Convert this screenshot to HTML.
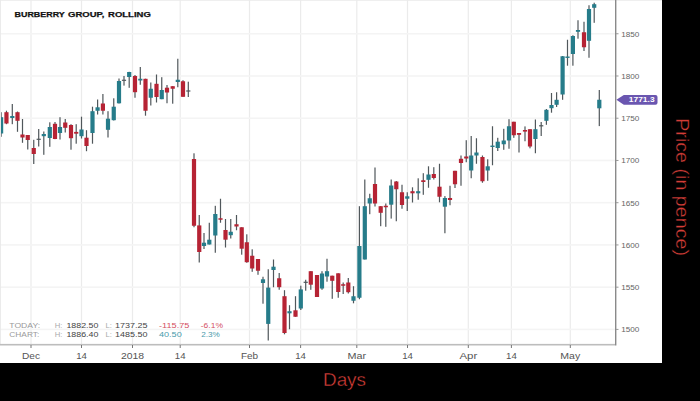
<!DOCTYPE html>
<html><head><meta charset="utf-8">
<style>
html,body{margin:0;padding:0;background:#000;width:700px;height:401px;overflow:hidden}
svg{display:block}
text{font-family:"Liberation Sans",sans-serif}
.yl{font-size:6.8px;fill:#666;letter-spacing:0px}
.xl{font-size:8.6px;fill:#555;letter-spacing:0px}
.tag{font-size:6.6px;fill:#fff;font-weight:bold;letter-spacing:0px}
.title{font-size:7.4px;font-weight:bold;fill:#111;stroke:#111;stroke-width:0.25px;letter-spacing:0px}
.lab{font-size:7px;fill:#9a9a9a;letter-spacing:0px}
.hl{font-size:7px;fill:#aaa;letter-spacing:0px}
.num{font-size:7px;fill:#444;letter-spacing:0px}
.neg{font-size:7px;fill:#d4505f;letter-spacing:0px}
.pos{font-size:7px;fill:#4a9bab;letter-spacing:0px}
.axt{font-size:18px;fill:#d43d37;stroke:#000;stroke-width:0.35px}
.axp{font-size:18px;fill:#d2402f;letter-spacing:0px}
</style></head>
<body>
<svg width="700" height="401" viewBox="0 0 700 401">
<rect x="0" y="0" width="700" height="401" fill="#000"/>
<rect x="0" y="0" width="662" height="363" fill="#ffffff"/>
<rect x="0" y="0" width="662" height="1" fill="#efefef"/>
<rect x="30.40" y="0" width="1.2" height="344" fill="#ebebeb"/>
<rect x="80.90" y="0" width="1.2" height="344" fill="#ebebeb"/>
<rect x="131.90" y="0" width="1.2" height="344" fill="#ebebeb"/>
<rect x="179.60" y="0" width="1.2" height="344" fill="#ebebeb"/>
<rect x="248.90" y="0" width="1.2" height="344" fill="#ebebeb"/>
<rect x="300.00" y="0" width="1.2" height="344" fill="#ebebeb"/>
<rect x="356.20" y="0" width="1.2" height="344" fill="#ebebeb"/>
<rect x="406.90" y="0" width="1.2" height="344" fill="#ebebeb"/>
<rect x="467.70" y="0" width="1.2" height="344" fill="#ebebeb"/>
<rect x="510.80" y="0" width="1.2" height="344" fill="#ebebeb"/>
<rect x="569.70" y="0" width="1.2" height="344" fill="#ebebeb"/>
<rect x="0" y="32.95" width="615" height="1.6" fill="#f4f4f4"/>
<rect x="0" y="75.19" width="615" height="1.6" fill="#f4f4f4"/>
<rect x="0" y="117.42" width="615" height="1.6" fill="#f4f4f4"/>
<rect x="0" y="159.66" width="615" height="1.6" fill="#f4f4f4"/>
<rect x="0" y="201.89" width="615" height="1.6" fill="#f4f4f4"/>
<rect x="0" y="244.13" width="615" height="1.6" fill="#f4f4f4"/>
<rect x="0" y="286.37" width="615" height="1.6" fill="#f4f4f4"/>
<rect x="0" y="328.60" width="615" height="1.6" fill="#f4f4f4"/>
<defs><clipPath id="pc"><rect x="0.9" y="0" width="615" height="345"/></clipPath></defs><g clip-path="url(#pc)">
<rect x="0.50" y="112.20" width="1.2" height="24.60" fill="#50575b"/>
<rect x="-1.00" y="117.20" width="4.2" height="16.30" fill="#267c8a"/>
<rect x="5.85" y="110.70" width="1.2" height="13.50" fill="#50575b"/>
<rect x="4.35" y="112.20" width="4.2" height="11.30" fill="#b62334"/>
<rect x="11.70" y="104.00" width="1.2" height="20.20" fill="#50575b"/>
<rect x="10.20" y="116.00" width="4.2" height="2.00" fill="#267c8a"/>
<rect x="16.90" y="111.50" width="1.2" height="20.30" fill="#50575b"/>
<rect x="15.40" y="112.20" width="4.2" height="8.60" fill="#b62334"/>
<rect x="21.90" y="119.00" width="1.2" height="23.80" fill="#50575b"/>
<rect x="20.40" y="134.50" width="4.2" height="3.00" fill="#b62334"/>
<rect x="27.15" y="135.00" width="1.2" height="14.50" fill="#50575b"/>
<rect x="25.65" y="135.00" width="4.2" height="5.00" fill="#b62334"/>
<rect x="33.15" y="139.80" width="1.2" height="24.20" fill="#50575b"/>
<rect x="31.65" y="148.00" width="4.2" height="6.00" fill="#b62334"/>
<rect x="38.10" y="129.00" width="1.2" height="17.50" fill="#50575b"/>
<rect x="36.60" y="138.70" width="4.2" height="1.2" fill="#50575b"/>
<rect x="43.20" y="131.50" width="1.2" height="23.30" fill="#50575b"/>
<rect x="41.70" y="134.00" width="4.2" height="2.20" fill="#267c8a"/>
<rect x="49.20" y="122.30" width="1.2" height="24.50" fill="#50575b"/>
<rect x="47.70" y="127.00" width="4.2" height="11.00" fill="#267c8a"/>
<rect x="54.40" y="122.00" width="1.2" height="17.20" fill="#50575b"/>
<rect x="52.90" y="123.80" width="4.2" height="15.20" fill="#b62334"/>
<rect x="59.40" y="117.20" width="1.2" height="22.30" fill="#50575b"/>
<rect x="57.90" y="127.00" width="4.2" height="6.00" fill="#267c8a"/>
<rect x="64.65" y="119.00" width="1.2" height="13.50" fill="#50575b"/>
<rect x="63.15" y="122.50" width="4.2" height="5.30" fill="#b62334"/>
<rect x="70.40" y="124.20" width="1.2" height="25.50" fill="#50575b"/>
<rect x="68.90" y="125.00" width="4.2" height="13.20" fill="#b62334"/>
<rect x="75.60" y="124.20" width="1.2" height="19.50" fill="#50575b"/>
<rect x="74.10" y="131.90" width="4.2" height="1.80" fill="#b62334"/>
<rect x="80.90" y="116.70" width="1.2" height="21.80" fill="#50575b"/>
<rect x="79.40" y="129.50" width="4.2" height="6.70" fill="#267c8a"/>
<rect x="85.90" y="130.20" width="1.2" height="21.00" fill="#50575b"/>
<rect x="84.40" y="137.70" width="4.2" height="8.30" fill="#b62334"/>
<rect x="91.90" y="106.70" width="1.2" height="37.00" fill="#50575b"/>
<rect x="90.40" y="111.20" width="4.2" height="21.80" fill="#267c8a"/>
<rect x="97.00" y="99.50" width="1.2" height="15.00" fill="#50575b"/>
<rect x="95.50" y="107.30" width="4.2" height="3.45" fill="#267c8a"/>
<rect x="102.30" y="94.00" width="1.2" height="20.50" fill="#50575b"/>
<rect x="100.80" y="103.50" width="4.2" height="7.25" fill="#b62334"/>
<rect x="107.40" y="111.20" width="1.2" height="26.30" fill="#50575b"/>
<rect x="105.90" y="118.70" width="4.2" height="11.10" fill="#267c8a"/>
<rect x="113.15" y="98.30" width="1.2" height="22.20" fill="#50575b"/>
<rect x="111.65" y="106.70" width="4.2" height="13.50" fill="#267c8a"/>
<rect x="118.40" y="78.50" width="1.2" height="25.00" fill="#50575b"/>
<rect x="116.90" y="81.00" width="4.2" height="22.30" fill="#267c8a"/>
<rect x="123.40" y="76.00" width="1.2" height="9.60" fill="#50575b"/>
<rect x="121.90" y="79.70" width="4.2" height="1.2" fill="#50575b"/>
<rect x="128.60" y="71.80" width="1.2" height="16.00" fill="#50575b"/>
<rect x="127.10" y="72.00" width="4.2" height="5.00" fill="#267c8a"/>
<rect x="134.40" y="75.00" width="1.2" height="22.75" fill="#50575b"/>
<rect x="132.90" y="76.00" width="4.2" height="16.20" fill="#b62334"/>
<rect x="139.70" y="67.00" width="1.2" height="17.75" fill="#50575b"/>
<rect x="138.20" y="78.75" width="4.2" height="1.75" fill="#267c8a"/>
<rect x="144.90" y="78.70" width="1.2" height="37.00" fill="#50575b"/>
<rect x="143.40" y="78.80" width="4.2" height="31.95" fill="#b62334"/>
<rect x="150.20" y="82.50" width="1.2" height="23.00" fill="#50575b"/>
<rect x="148.70" y="88.75" width="4.2" height="9.00" fill="#267c8a"/>
<rect x="155.90" y="74.50" width="1.2" height="28.00" fill="#50575b"/>
<rect x="154.40" y="83.80" width="4.2" height="13.20" fill="#b62334"/>
<rect x="161.15" y="77.20" width="1.2" height="22.00" fill="#50575b"/>
<rect x="159.65" y="90.00" width="4.2" height="9.20" fill="#267c8a"/>
<rect x="166.40" y="85.00" width="1.2" height="18.25" fill="#50575b"/>
<rect x="164.90" y="87.70" width="4.2" height="4.80" fill="#b62334"/>
<rect x="172.10" y="86.20" width="1.2" height="17.50" fill="#50575b"/>
<rect x="170.60" y="86.20" width="4.2" height="2.55" fill="#b62334"/>
<rect x="177.20" y="58.75" width="1.2" height="28.50" fill="#50575b"/>
<rect x="175.70" y="79.75" width="4.2" height="2.25" fill="#267c8a"/>
<rect x="182.40" y="80.20" width="1.2" height="16.60" fill="#50575b"/>
<rect x="180.90" y="81.25" width="4.2" height="15.55" fill="#b62334"/>
<rect x="187.70" y="81.70" width="1.2" height="15.30" fill="#50575b"/>
<rect x="186.20" y="90.40" width="4.2" height="1.2" fill="#50575b"/>
<rect x="193.40" y="153.30" width="1.2" height="73.95" fill="#50575b"/>
<rect x="191.90" y="159.00" width="4.2" height="66.75" fill="#b62334"/>
<rect x="198.65" y="215.00" width="1.2" height="47.50" fill="#50575b"/>
<rect x="197.15" y="225.40" width="4.2" height="26.60" fill="#b62334"/>
<rect x="203.40" y="233.00" width="1.2" height="16.00" fill="#50575b"/>
<rect x="201.90" y="242.70" width="4.2" height="3.30" fill="#267c8a"/>
<rect x="208.70" y="222.75" width="1.2" height="21.75" fill="#50575b"/>
<rect x="207.20" y="239.70" width="4.2" height="4.80" fill="#267c8a"/>
<rect x="214.70" y="205.80" width="1.2" height="46.95" fill="#50575b"/>
<rect x="213.20" y="214.00" width="4.2" height="21.50" fill="#267c8a"/>
<rect x="219.90" y="198.75" width="1.2" height="24.00" fill="#50575b"/>
<rect x="218.40" y="218.25" width="4.2" height="1.50" fill="#b62334"/>
<rect x="224.90" y="219.00" width="1.2" height="28.50" fill="#50575b"/>
<rect x="223.40" y="230.00" width="4.2" height="9.70" fill="#b62334"/>
<rect x="230.15" y="219.00" width="1.2" height="19.50" fill="#50575b"/>
<rect x="228.65" y="231.75" width="4.2" height="3.45" fill="#267c8a"/>
<rect x="235.90" y="215.00" width="1.2" height="15.25" fill="#50575b"/>
<rect x="234.40" y="224.25" width="4.2" height="2.25" fill="#b62334"/>
<rect x="241.10" y="227.25" width="1.2" height="27.45" fill="#50575b"/>
<rect x="239.60" y="227.25" width="4.2" height="21.45" fill="#b62334"/>
<rect x="246.20" y="234.30" width="1.2" height="28.50" fill="#50575b"/>
<rect x="244.70" y="242.25" width="4.2" height="19.95" fill="#b62334"/>
<rect x="251.60" y="249.30" width="1.2" height="22.50" fill="#50575b"/>
<rect x="250.10" y="255.75" width="4.2" height="12.75" fill="#b62334"/>
<rect x="257.40" y="259.00" width="1.2" height="15.80" fill="#50575b"/>
<rect x="255.90" y="259.00" width="4.2" height="11.75" fill="#b62334"/>
<rect x="262.40" y="276.75" width="1.2" height="26.95" fill="#50575b"/>
<rect x="260.90" y="279.30" width="4.2" height="3.70" fill="#267c8a"/>
<rect x="267.65" y="269.25" width="1.2" height="71.25" fill="#50575b"/>
<rect x="266.15" y="287.60" width="4.2" height="36.30" fill="#267c8a"/>
<rect x="272.90" y="259.50" width="1.2" height="27.75" fill="#50575b"/>
<rect x="271.40" y="266.70" width="4.2" height="3.30" fill="#267c8a"/>
<rect x="278.60" y="273.00" width="1.2" height="16.75" fill="#50575b"/>
<rect x="277.10" y="278.25" width="4.2" height="8.95" fill="#b62334"/>
<rect x="283.90" y="290.20" width="1.2" height="44.10" fill="#50575b"/>
<rect x="282.40" y="296.20" width="4.2" height="36.80" fill="#b62334"/>
<rect x="288.90" y="305.20" width="1.2" height="24.05" fill="#50575b"/>
<rect x="287.40" y="311.20" width="4.2" height="2.10" fill="#267c8a"/>
<rect x="294.90" y="296.20" width="1.2" height="20.55" fill="#50575b"/>
<rect x="293.40" y="310.30" width="4.2" height="6.45" fill="#b62334"/>
<rect x="300.20" y="285.70" width="1.2" height="24.30" fill="#50575b"/>
<rect x="298.70" y="289.40" width="4.2" height="19.10" fill="#267c8a"/>
<rect x="305.10" y="279.75" width="1.2" height="10.95" fill="#50575b"/>
<rect x="303.60" y="281.70" width="4.2" height="1.2" fill="#50575b"/>
<rect x="310.20" y="271.20" width="1.2" height="18.60" fill="#50575b"/>
<rect x="308.70" y="271.20" width="4.2" height="13.50" fill="#b62334"/>
<rect x="316.40" y="275.00" width="1.2" height="22.00" fill="#50575b"/>
<rect x="314.90" y="275.00" width="4.2" height="22.00" fill="#b62334"/>
<rect x="321.40" y="271.20" width="1.2" height="18.60" fill="#50575b"/>
<rect x="319.90" y="273.50" width="4.2" height="15.00" fill="#267c8a"/>
<rect x="326.40" y="258.75" width="1.2" height="22.95" fill="#50575b"/>
<rect x="324.90" y="271.20" width="4.2" height="5.30" fill="#267c8a"/>
<rect x="331.65" y="275.70" width="1.2" height="23.10" fill="#50575b"/>
<rect x="330.15" y="275.70" width="4.2" height="5.10" fill="#b62334"/>
<rect x="337.65" y="273.30" width="1.2" height="24.45" fill="#50575b"/>
<rect x="336.15" y="273.30" width="4.2" height="18.70" fill="#b62334"/>
<rect x="342.60" y="282.50" width="1.2" height="11.50" fill="#50575b"/>
<rect x="341.10" y="284.25" width="4.2" height="1.50" fill="#b62334"/>
<rect x="347.70" y="278.00" width="1.2" height="15.50" fill="#50575b"/>
<rect x="346.20" y="282.50" width="4.2" height="9.70" fill="#b62334"/>
<rect x="352.90" y="286.20" width="1.2" height="17.10" fill="#50575b"/>
<rect x="351.40" y="296.25" width="4.2" height="4.50" fill="#267c8a"/>
<rect x="358.80" y="206.20" width="1.2" height="93.05" fill="#50575b"/>
<rect x="357.30" y="246.00" width="4.2" height="51.75" fill="#267c8a"/>
<rect x="364.20" y="179.50" width="1.2" height="80.00" fill="#50575b"/>
<rect x="362.70" y="206.20" width="4.2" height="53.30" fill="#267c8a"/>
<rect x="369.15" y="193.75" width="1.2" height="20.45" fill="#50575b"/>
<rect x="367.65" y="198.25" width="4.2" height="5.25" fill="#267c8a"/>
<rect x="374.40" y="167.50" width="1.2" height="39.00" fill="#50575b"/>
<rect x="372.90" y="184.00" width="4.2" height="19.50" fill="#b62334"/>
<rect x="380.10" y="206.00" width="1.2" height="20.20" fill="#50575b"/>
<rect x="378.60" y="206.20" width="4.2" height="6.60" fill="#b62334"/>
<rect x="385.20" y="203.50" width="1.2" height="23.30" fill="#50575b"/>
<rect x="383.70" y="205.75" width="4.2" height="1.50" fill="#b62334"/>
<rect x="390.60" y="179.50" width="1.2" height="39.10" fill="#50575b"/>
<rect x="389.10" y="185.50" width="4.2" height="19.20" fill="#267c8a"/>
<rect x="395.70" y="181.00" width="1.2" height="40.25" fill="#50575b"/>
<rect x="394.20" y="181.50" width="4.2" height="7.75" fill="#b62334"/>
<rect x="401.40" y="184.75" width="1.2" height="24.00" fill="#50575b"/>
<rect x="399.90" y="192.25" width="4.2" height="12.75" fill="#b62334"/>
<rect x="406.65" y="192.25" width="1.2" height="18.75" fill="#50575b"/>
<rect x="405.15" y="196.30" width="4.2" height="2.40" fill="#267c8a"/>
<rect x="411.90" y="187.30" width="1.2" height="15.20" fill="#50575b"/>
<rect x="410.40" y="191.20" width="4.2" height="2.10" fill="#b62334"/>
<rect x="417.60" y="178.30" width="1.2" height="21.45" fill="#50575b"/>
<rect x="416.10" y="191.20" width="4.2" height="2.10" fill="#267c8a"/>
<rect x="422.70" y="173.20" width="1.2" height="21.60" fill="#50575b"/>
<rect x="421.20" y="180.25" width="4.2" height="1.75" fill="#b62334"/>
<rect x="427.90" y="166.30" width="1.2" height="21.45" fill="#50575b"/>
<rect x="426.40" y="174.50" width="4.2" height="5.30" fill="#267c8a"/>
<rect x="433.20" y="167.20" width="1.2" height="12.30" fill="#50575b"/>
<rect x="431.70" y="174.00" width="4.2" height="4.00" fill="#b62334"/>
<rect x="438.90" y="163.75" width="1.2" height="38.55" fill="#50575b"/>
<rect x="437.40" y="186.70" width="4.2" height="10.05" fill="#b62334"/>
<rect x="444.30" y="196.10" width="1.2" height="37.15" fill="#50575b"/>
<rect x="442.80" y="198.00" width="4.2" height="8.70" fill="#267c8a"/>
<rect x="449.40" y="185.75" width="1.2" height="19.50" fill="#50575b"/>
<rect x="447.90" y="198.00" width="4.2" height="2.00" fill="#b62334"/>
<rect x="454.40" y="170.80" width="1.2" height="17.20" fill="#50575b"/>
<rect x="452.90" y="170.80" width="4.2" height="13.45" fill="#b62334"/>
<rect x="460.40" y="155.50" width="1.2" height="30.25" fill="#50575b"/>
<rect x="458.90" y="158.80" width="4.2" height="4.20" fill="#b62334"/>
<rect x="465.65" y="140.20" width="1.2" height="22.05" fill="#50575b"/>
<rect x="464.15" y="156.50" width="4.2" height="2.00" fill="#b62334"/>
<rect x="470.60" y="136.00" width="1.2" height="42.25" fill="#50575b"/>
<rect x="469.10" y="155.50" width="4.2" height="15.00" fill="#267c8a"/>
<rect x="475.85" y="138.25" width="1.2" height="25.50" fill="#50575b"/>
<rect x="474.35" y="152.50" width="4.2" height="3.00" fill="#267c8a"/>
<rect x="481.85" y="155.50" width="1.2" height="27.25" fill="#50575b"/>
<rect x="480.35" y="157.00" width="4.2" height="24.25" fill="#b62334"/>
<rect x="487.10" y="159.25" width="1.2" height="21.55" fill="#50575b"/>
<rect x="485.60" y="166.30" width="4.2" height="4.20" fill="#267c8a"/>
<rect x="491.90" y="126.25" width="1.2" height="39.00" fill="#50575b"/>
<rect x="490.40" y="145.58" width="4.2" height="1.40" fill="#267c8a"/>
<rect x="497.15" y="137.80" width="1.2" height="13.20" fill="#50575b"/>
<rect x="495.65" y="141.70" width="4.2" height="6.30" fill="#267c8a"/>
<rect x="503.15" y="128.80" width="1.2" height="21.00" fill="#50575b"/>
<rect x="501.65" y="140.50" width="4.2" height="3.75" fill="#267c8a"/>
<rect x="508.40" y="119.20" width="1.2" height="29.55" fill="#50575b"/>
<rect x="506.90" y="126.25" width="4.2" height="14.25" fill="#267c8a"/>
<rect x="513.20" y="121.75" width="1.2" height="16.05" fill="#50575b"/>
<rect x="511.70" y="121.75" width="4.2" height="13.50" fill="#b62334"/>
<rect x="518.40" y="133.00" width="1.2" height="19.50" fill="#50575b"/>
<rect x="516.90" y="133.00" width="4.2" height="1.80" fill="#b62334"/>
<rect x="524.40" y="126.40" width="1.2" height="14.85" fill="#50575b"/>
<rect x="522.90" y="130.00" width="4.2" height="1.60" fill="#b62334"/>
<rect x="529.40" y="129.20" width="1.2" height="19.10" fill="#50575b"/>
<rect x="527.90" y="129.20" width="4.2" height="17.30" fill="#b62334"/>
<rect x="534.80" y="119.50" width="1.2" height="33.75" fill="#50575b"/>
<rect x="533.30" y="129.20" width="4.2" height="9.80" fill="#267c8a"/>
<rect x="540.60" y="122.00" width="1.2" height="14.00" fill="#50575b"/>
<rect x="539.10" y="125.20" width="4.2" height="1.2" fill="#50575b"/>
<rect x="545.80" y="109.00" width="1.2" height="15.80" fill="#50575b"/>
<rect x="544.30" y="109.80" width="4.2" height="11.00" fill="#267c8a"/>
<rect x="550.90" y="93.00" width="1.2" height="19.70" fill="#50575b"/>
<rect x="549.40" y="105.00" width="4.2" height="3.20" fill="#267c8a"/>
<rect x="556.00" y="92.25" width="1.2" height="14.75" fill="#50575b"/>
<rect x="554.50" y="99.80" width="4.2" height="5.00" fill="#267c8a"/>
<rect x="562.00" y="56.00" width="1.2" height="43.80" fill="#50575b"/>
<rect x="560.50" y="56.25" width="4.2" height="38.25" fill="#267c8a"/>
<rect x="566.90" y="39.75" width="1.2" height="25.95" fill="#50575b"/>
<rect x="565.40" y="56.52" width="4.2" height="1.40" fill="#267c8a"/>
<rect x="572.30" y="35.25" width="1.2" height="30.45" fill="#50575b"/>
<rect x="570.80" y="36.00" width="4.2" height="18.00" fill="#267c8a"/>
<rect x="577.40" y="20.25" width="1.2" height="18.45" fill="#50575b"/>
<rect x="575.90" y="30.00" width="4.2" height="1.80" fill="#267c8a"/>
<rect x="583.40" y="21.75" width="1.2" height="29.25" fill="#50575b"/>
<rect x="581.90" y="32.25" width="4.2" height="15.00" fill="#b62334"/>
<rect x="588.40" y="5.25" width="1.2" height="52.50" fill="#50575b"/>
<rect x="586.90" y="9.00" width="4.2" height="31.80" fill="#267c8a"/>
<rect x="593.60" y="2.70" width="1.2" height="20.10" fill="#50575b"/>
<rect x="592.10" y="4.20" width="4.2" height="3.60" fill="#267c8a"/>
<rect x="598.70" y="90.00" width="1.2" height="36.10" fill="#50575b"/>
<rect x="597.20" y="99.75" width="4.2" height="8.55" fill="#267c8a"/>
</g>
<rect x="0" y="0" width="0.9" height="345" fill="#e9e9e9"/>
<rect x="615" y="0" width="1.4" height="345.5" fill="#8a8a8a"/>
<rect x="0" y="343.9" width="615" height="1.6" fill="#bdbdbd"/>
<rect x="30.50" y="345" width="1" height="3" fill="#777"/>
<rect x="81.00" y="345" width="1" height="3" fill="#777"/>
<rect x="132.00" y="345" width="1" height="3" fill="#777"/>
<rect x="179.70" y="345" width="1" height="3" fill="#777"/>
<rect x="249.00" y="345" width="1" height="3" fill="#777"/>
<rect x="300.10" y="345" width="1" height="3" fill="#777"/>
<rect x="356.30" y="345" width="1" height="3" fill="#777"/>
<rect x="407.00" y="345" width="1" height="3" fill="#777"/>
<rect x="467.80" y="345" width="1" height="3" fill="#777"/>
<rect x="510.90" y="345" width="1" height="3" fill="#777"/>
<rect x="569.80" y="345" width="1" height="3" fill="#777"/>
<rect x="616" y="33.25" width="2.5" height="1" fill="#999"/>
<rect x="616" y="75.49" width="2.5" height="1" fill="#999"/>
<rect x="616" y="117.72" width="2.5" height="1" fill="#999"/>
<rect x="616" y="159.96" width="2.5" height="1" fill="#999"/>
<rect x="616" y="202.19" width="2.5" height="1" fill="#999"/>
<rect x="616" y="244.43" width="2.5" height="1" fill="#999"/>
<rect x="616" y="286.67" width="2.5" height="1" fill="#999"/>
<rect x="616" y="328.90" width="2.5" height="1" fill="#999"/>
<text x="621.2" y="36.65" class="yl" textLength="18.2" lengthAdjust="spacingAndGlyphs">1850</text>
<text x="621.2" y="78.89" class="yl" textLength="18.2" lengthAdjust="spacingAndGlyphs">1800</text>
<text x="621.2" y="121.12" class="yl" textLength="18.2" lengthAdjust="spacingAndGlyphs">1750</text>
<text x="621.2" y="163.36" class="yl" textLength="18.2" lengthAdjust="spacingAndGlyphs">1700</text>
<text x="621.2" y="205.59" class="yl" textLength="18.2" lengthAdjust="spacingAndGlyphs">1650</text>
<text x="621.2" y="247.83" class="yl" textLength="18.2" lengthAdjust="spacingAndGlyphs">1600</text>
<text x="621.2" y="290.07" class="yl" textLength="18.2" lengthAdjust="spacingAndGlyphs">1550</text>
<text x="621.2" y="332.30" class="yl" textLength="18.2" lengthAdjust="spacingAndGlyphs">1500</text>
<text x="22.00" y="358.9" class="xl" textLength="18" lengthAdjust="spacingAndGlyphs">Dec</text>
<text x="76.15" y="358.9" class="xl" textLength="10.7" lengthAdjust="spacingAndGlyphs">14</text>
<text x="120.90" y="358.9" class="xl" textLength="23.2" lengthAdjust="spacingAndGlyphs">2018</text>
<text x="174.85" y="358.9" class="xl" textLength="10.7" lengthAdjust="spacingAndGlyphs">14</text>
<text x="240.90" y="358.9" class="xl" textLength="17.2" lengthAdjust="spacingAndGlyphs">Feb</text>
<text x="295.25" y="358.9" class="xl" textLength="10.7" lengthAdjust="spacingAndGlyphs">14</text>
<text x="347.50" y="358.9" class="xl" textLength="18.6" lengthAdjust="spacingAndGlyphs">Mar</text>
<text x="402.15" y="358.9" class="xl" textLength="10.7" lengthAdjust="spacingAndGlyphs">14</text>
<text x="459.40" y="358.9" class="xl" textLength="17.8" lengthAdjust="spacingAndGlyphs">Apr</text>
<text x="506.05" y="358.9" class="xl" textLength="10.7" lengthAdjust="spacingAndGlyphs">14</text>
<text x="560.35" y="358.9" class="xl" textLength="19.9" lengthAdjust="spacingAndGlyphs">May</text>
<path d="M616.4 99.8 L623.8 94.9 L655.5 94.9 Q657.5 94.9 657.5 96.9 L657.5 102.7 Q657.5 104.7 655.5 104.7 L623.8 104.7 Z" fill="#6a56b0"/>
<text x="628.8" y="102.3" class="tag" textLength="25.8" lengthAdjust="spacingAndGlyphs">1771.3</text>
<text x="14.5" y="17.4" class="title" textLength="50.2" lengthAdjust="spacingAndGlyphs">BURBERRY</text>
<text x="68.1" y="17.4" class="title" textLength="36.2" lengthAdjust="spacingAndGlyphs">GROUP,</text>
<text x="108.1" y="17.4" class="title" textLength="42.7" lengthAdjust="spacingAndGlyphs">ROLLING</text>
<text x="9.3" y="327.9" class="lab" textLength="30.8" lengthAdjust="spacingAndGlyphs">TODAY:</text>
<text x="9.3" y="336.8" class="lab" textLength="30.0" lengthAdjust="spacingAndGlyphs">CHART:</text>
<text x="54.7" y="327.9" class="hl" textLength="7.7" lengthAdjust="spacingAndGlyphs">H:</text>
<text x="66.4" y="327.9" class="num" textLength="32" lengthAdjust="spacingAndGlyphs">1882.50</text>
<text x="105.4" y="327.9" class="hl" textLength="6.4" lengthAdjust="spacingAndGlyphs">L:</text>
<text x="114.9" y="327.9" class="num" textLength="32.5" lengthAdjust="spacingAndGlyphs">1737.25</text>
<text x="159" y="327.9" class="neg" textLength="30.5" lengthAdjust="spacingAndGlyphs">-115.75</text>
<text x="200.8" y="327.9" class="neg" textLength="22.2" lengthAdjust="spacingAndGlyphs">-6.1%</text>
<text x="54.7" y="336.8" class="hl" textLength="7.7" lengthAdjust="spacingAndGlyphs">H:</text>
<text x="66.4" y="336.8" class="num" textLength="32" lengthAdjust="spacingAndGlyphs">1886.40</text>
<text x="105.4" y="336.8" class="hl" textLength="6.4" lengthAdjust="spacingAndGlyphs">L:</text>
<text x="114.9" y="336.8" class="num" textLength="32.5" lengthAdjust="spacingAndGlyphs">1485.50</text>
<text x="159" y="336.8" class="pos" textLength="22.7" lengthAdjust="spacingAndGlyphs">40.50</text>
<text x="201.2" y="336.8" class="pos" textLength="18.6" lengthAdjust="spacingAndGlyphs">2.3%</text>
<text x="323" y="386" class="axt" textLength="43" lengthAdjust="spacingAndGlyphs">Days</text>
<text transform="translate(675.8 118.2) rotate(90)" x="0" y="0" class="axt" textLength="137.8" lengthAdjust="spacingAndGlyphs">Price (in pence)</text>
</svg>
</body></html>
